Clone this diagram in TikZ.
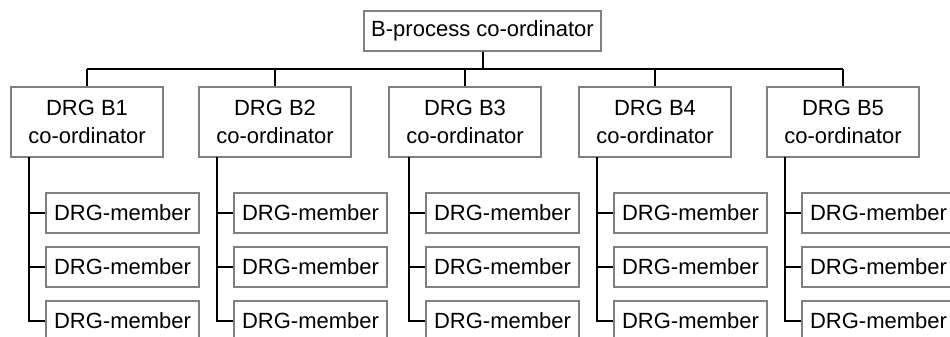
\documentclass[tikz,border=0pt]{standalone}
\usepackage{fontspec}
\setmainfont{Liberation Sans}
\usetikzlibrary{calc}
\definecolor{boxgray}{RGB}{128,128,128}
\tikzset{
  box/.style={draw=boxgray, line width=1.8pt, fill=white, inner sep=0pt, align=center,
    font=\fontsize{22}{28.5}\selectfont},
  topbox/.style={box, minimum width=237pt, minimum height=40pt},
  coordbox/.style={box, minimum width=152pt, minimum height=70pt},
  memberbox/.style={box, minimum width=153pt, minimum height=40pt},
  conn/.style={draw=black, line width=2pt}
}
\begin{document}
\begin{tikzpicture}[x=1pt,y=-1pt]
\useasboundingbox (0,0) rectangle (950,337);
\clip (0,0) rectangle (950,337);
\fill[white] (0,0) rectangle (950,337);
\node[topbox] (top) at (482.5,31) {B-process co-ordinator};
\coordinate (busL) at (87,69);
\coordinate (busR) at (843,69);
\coordinate (busM) at (top.south |- busL);
\foreach \i/\cx/\tx in {1/87/29, 2/275/217, 3/465/409, 4/655/597, 5/843/785}{
  \node[coordbox] (c\i) at (\cx,122) {DRG B\i\\co-ordinator};
  \coordinate (t\i) at (\tx,157);
  \node[memberbox] (m\i a) at (\tx+17+76.5,213) {DRG-member};
  \node[memberbox] (m\i b) at (\tx+17+76.5,267) {DRG-member};
  \node[memberbox] (m\i c) at (\tx+17+76.5,321) {DRG-member};
  \draw[conn] (c\i.north) -- (c\i.north |- busL);
  \draw[conn] (t\i) |- (m\i c.west);
  \draw[conn] (m\i a.west) -- (m\i a.west -| t\i);
  \draw[conn] (m\i b.west) -- (m\i b.west -| t\i);
}
\draw[conn] (busL) -- (busR);
\draw[conn] (top.south) -- (busM);
\end{tikzpicture}
\end{document}
